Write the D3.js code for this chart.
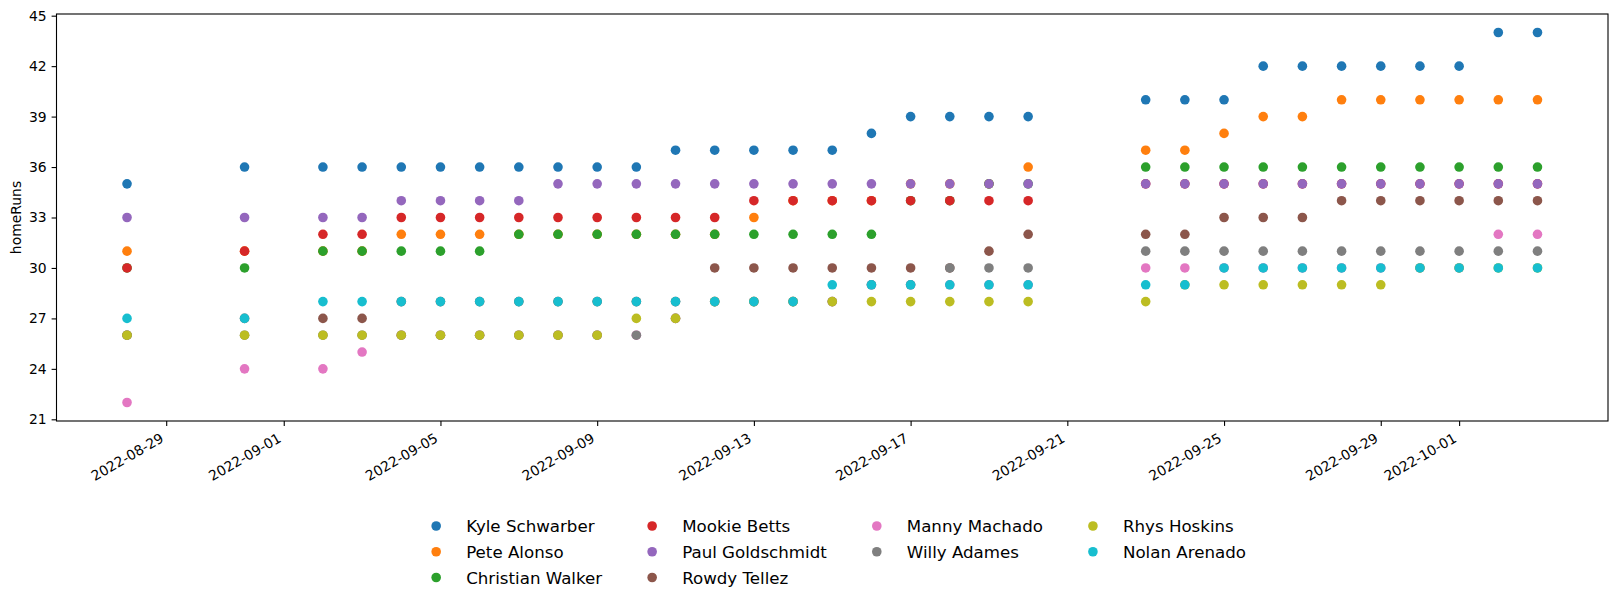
<!DOCTYPE html>
<html>
<head>
<meta charset="utf-8">
<script src="https://cdn.jsdelivr.net/npm/d3@7"></script>
<style>
  body { margin: 0; background: #fff; }
  .container { width: 1616px; height: 605px; }
  text { font-family: "DejaVu Sans", sans-serif; fill: #000; }
</style>
</head>
<body>
<div class="container"></div>
<script>
//Dates of each column of points
const dates = ["2022-08-28","2022-08-31","2022-09-02","2022-09-03","2022-09-04","2022-09-05","2022-09-06","2022-09-07","2022-09-08","2022-09-09","2022-09-10","2022-09-11","2022-09-12","2022-09-13","2022-09-14","2022-09-15","2022-09-16","2022-09-17","2022-09-18","2022-09-19","2022-09-20","2022-09-23","2022-09-24","2022-09-25","2022-09-26","2022-09-27","2022-09-28","2022-09-29","2022-09-30","2022-10-01","2022-10-02","2022-10-03"];

//Home runs per player, one value per date
const schwarber = [35,36,36,36,36,36,36,36,36,36,36,37,37,37,37,37,38,39,39,39,39,40,40,40,42,42,42,42,42,42,44,44];
const alonso = [31,31,31,31,32,32,32,32,32,32,32,32,32,33,34,34,34,35,35,35,36,37,37,38,39,39,40,40,40,40,40,40];
const walker = [30,30,31,31,31,31,31,32,32,32,32,32,32,32,32,32,32,34,34,35,35,36,36,36,36,36,36,36,36,36,36,36];
const betts = [30,31,32,32,33,33,33,33,33,33,33,33,33,34,34,34,34,34,34,34,34,35,35,35,35,35,35,35,35,35,35,35];
const goldschmidt = [33,33,33,33,34,34,34,34,35,35,35,35,35,35,35,35,35,35,35,35,35,35,35,35,35,35,35,35,35,35,35,35];
const tellez = [26,27,27,27,28,28,28,28,28,28,28,28,30,30,30,30,30,30,30,31,32,32,32,33,33,33,34,34,34,34,34,34];
const machado = [22,24,24,25,26,26,26,26,26,26,26,27,28,28,28,28,29,29,29,29,29,30,30,30,30,30,30,30,30,30,32,32];
const adames = [26,26,26,26,26,26,26,26,26,26,26,27,28,28,28,28,29,29,30,30,30,31,31,31,31,31,31,31,31,31,31,31];
const hoskins = [26,26,26,26,26,26,26,26,26,26,27,27,28,28,28,28,28,28,28,28,28,28,29,29,29,29,29,29,30,30,30,30];
const arenado = [27,27,28,28,28,28,28,28,28,28,28,28,28,28,28,29,29,29,29,29,29,29,29,30,30,30,30,30,30,30,30,30];

const players = ["Kyle Schwarber","Pete Alonso","Christian Walker","Mookie Betts","Paul Goldschmidt","Rowdy Tellez","Manny Machado","Willy Adames","Rhys Hoskins","Nolan Arenado"];
const series = [schwarber, alonso, walker, betts, goldschmidt, tellez, machado, adames, hoskins, arenado];

//Tick labels
const xTickLabels = ["2022-08-29","2022-09-01","2022-09-05","2022-09-09","2022-09-13","2022-09-17","2022-09-21","2022-09-25","2022-09-29","2022-10-01"];
const yTickLabels = [21,24,27,30,33,36,39,42,45];

const colors = d3.schemeCategory10;
const parse = d3.utcParse("%Y-%m-%d");

const pLeft = 56.5, pRight = 1608, pTop = 14, pBottom = 421;
const fs = 13.9;

const svg = d3
  .select(".container")
  .append("svg")
  .attr("width", 1616)
  .attr("height", 605);

//Scales with matplotlib style 5% margins
const tMin = d3.min(dates, d => parse(d)).getTime();
const tMax = d3.max(dates, d => parse(d)).getTime();
const tPad = (tMax - tMin) * 0.05;
const xScale = d3
  .scaleUtc()
  .domain([new Date(tMin - tPad), new Date(tMax + tPad)])
  .range([pLeft, pRight]);

const allVals = series.flat();
const vMin = d3.min(allVals), vMax = d3.max(allVals);
const vPad = (vMax - vMin) * 0.05;
const yScale = d3
  .scaleLinear()
  .domain([vMin - vPad, vMax + vPad])
  .range([pBottom, pTop]);

//Points, one player after the other
series.forEach((vals, p) => {
  svg
    .append("g")
    .selectAll("circle")
    .data(vals)
    .enter()
    .append("circle")
    .attr("cx", (d, i) => xScale(parse(dates[i])))
    .attr("cy", d => yScale(d))
    .attr("r", 4.8)
    .style("fill", colors[p]);
});

//Y axis
const yAxis = svg
  .append("g")
  .attr("transform", `translate(${pLeft},0)`)
  .call(d3.axisLeft(yScale).tickValues(yTickLabels).tickSize(4.9).tickPadding(4.9));
yAxis.select(".domain").remove();
yAxis.selectAll("line").attr("stroke", "#000").attr("stroke-width", 1.1);
yAxis.selectAll("text").attr("font-size", fs).attr("font-family", "DejaVu Sans").attr("fill", "#000");

//X axis with rotated labels
const xAxis = svg
  .append("g")
  .attr("transform", `translate(0,${pBottom})`)
  .call(
    d3.axisBottom(xScale)
      .tickValues(xTickLabels.map(parse))
      .tickSize(4.9)
      .tickFormat((d, i) => xTickLabels[i])
  );
xAxis.select(".domain").remove();
xAxis.selectAll("line").attr("stroke", "#000").attr("stroke-width", 1.1);
xAxis
  .selectAll("text")
  .attr("font-size", fs)
  .attr("font-family", "DejaVu Sans")
  .attr("fill", "#000")
  .attr("dy", null)
  .attr("y", null)
  .attr("text-anchor", "end")
  .attr("transform", "translate(-2,20) rotate(-30)");

//Frame
svg
  .append("rect")
  .attr("x", pLeft)
  .attr("y", pTop)
  .attr("width", pRight - pLeft)
  .attr("height", pBottom - pTop)
  .attr("fill", "none")
  .attr("stroke", "#000")
  .attr("stroke-width", 1.1);

//Y label
svg
  .append("text")
  .attr("transform", `translate(21,${(pTop + pBottom) / 2}) rotate(-90)`)
  .attr("text-anchor", "middle")
  .attr("font-size", fs)
  .text("homeRuns");

//Legend, 4 columns filled top to bottom (3,3,2,2 like matplotlib)
const lfs = 16.67;
const ncol = 4;
const nFull = Math.floor(players.length / ncol);
const nBig = players.length % ncol;
const legend = svg.append("g");
let colX = 419.5;
let start = 0;
for (let c = 0; c < ncol; c++) {
  const size = nFull + (c < nBig ? 1 : 0);
  const items = players.slice(start, start + size);
  let maxW = 0;
  items.forEach((name, r) => {
    const k = start + r;
    const cy = 526 + r * 25.75;
    legend
      .append("circle")
      .attr("cx", colX + lfs)
      .attr("cy", cy)
      .attr("r", 4.8)
      .style("fill", colors[k]);
    const t = legend
      .append("text")
      .attr("x", colX + lfs * 2.8)
      .attr("y", cy)
      .attr("dy", "0.36em")
      .attr("font-size", lfs)
      .text(name);
    maxW = Math.max(maxW, t.node().getComputedTextLength());
  });
  start += size;
  colX += lfs * 2.8 + maxW + lfs * 2;
}
</script>
</body>
</html>
